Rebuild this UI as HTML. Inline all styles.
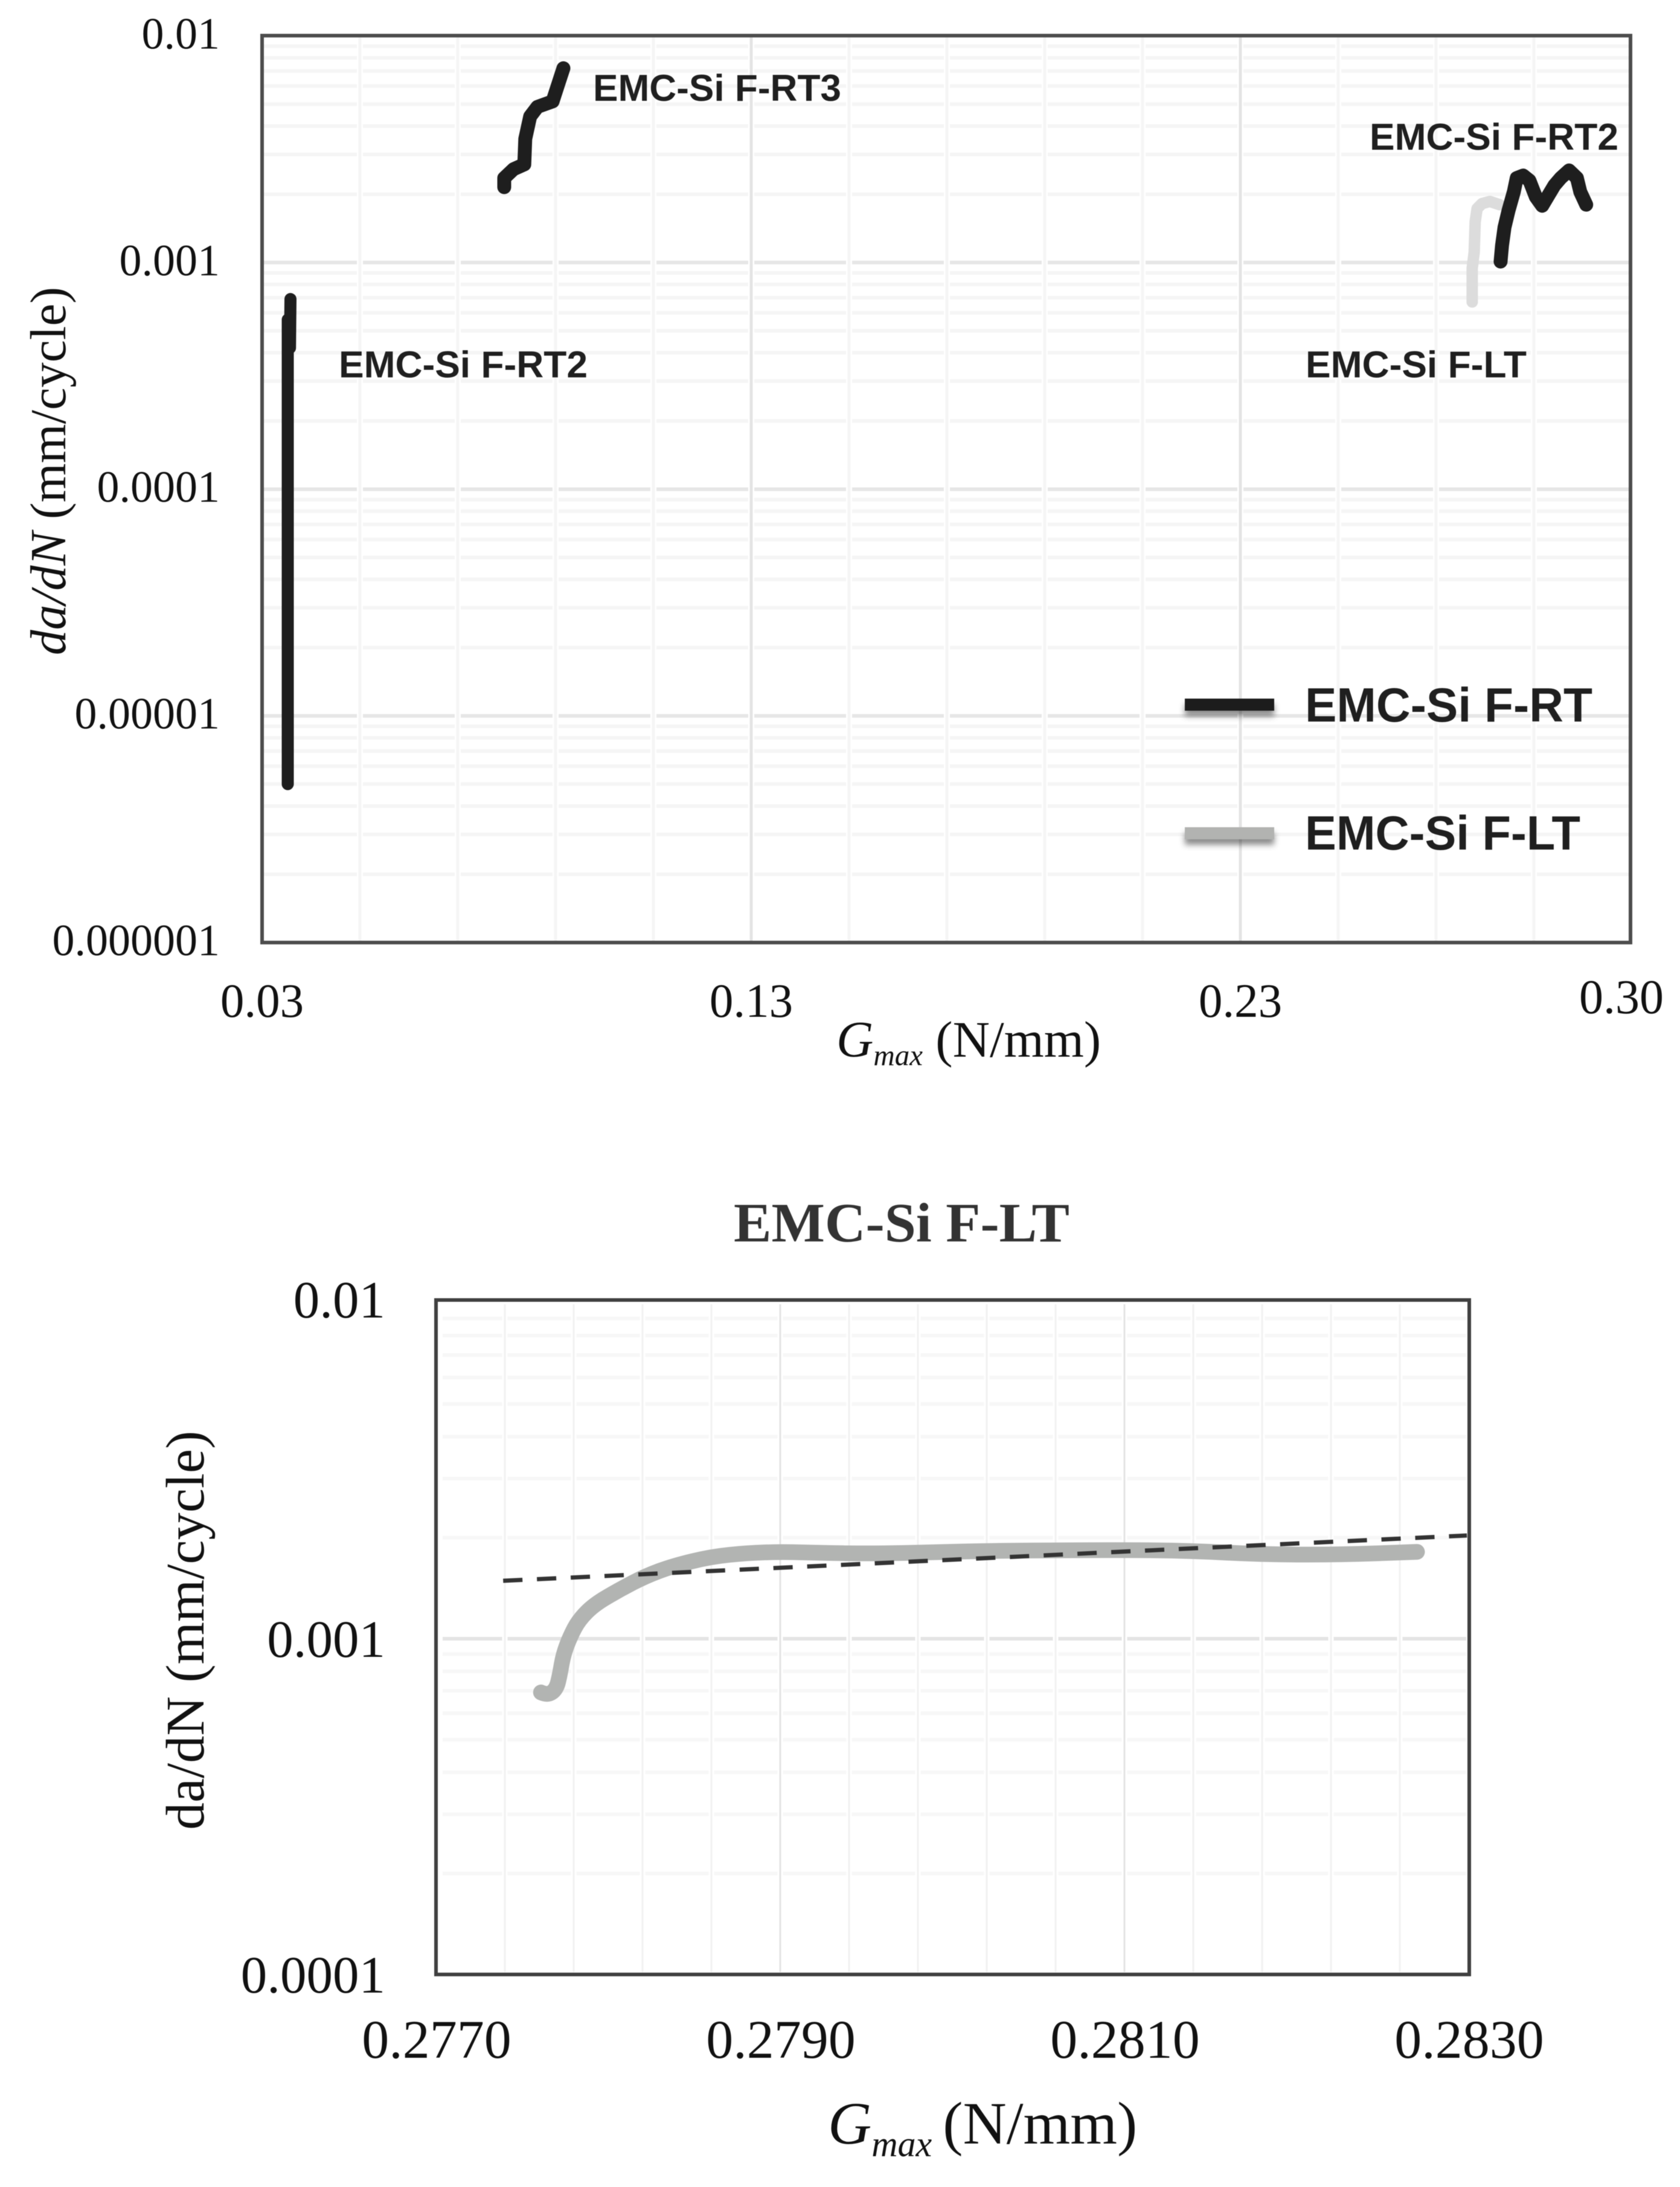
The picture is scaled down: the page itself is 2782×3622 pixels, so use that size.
<!DOCTYPE html>
<html lang="en">
<head>
<meta charset="utf-8">
<title>EMC-Si fatigue crack growth charts</title>
<style>
html,body{margin:0;padding:0;background:#fff;}
svg{display:block;filter:blur(0.6px);}
text{font-family:"Liberation Serif",serif;fill:#111;}
.sans{font-family:"Liberation Sans",sans-serif;font-weight:bold;fill:#1f1f1f;}
</style>
</head>
<body>
<svg id="root" xmlns="http://www.w3.org/2000/svg" width="2782" height="3622" viewBox="0 0 2782 3622">
<defs>
<filter id="legend-shadow" x="-20%" y="-100%" width="140%" height="400%">
<feDropShadow dx="0" dy="9" stdDeviation="5" flood-color="#000" flood-opacity="0.45"/>
</filter>
</defs>
<rect width="2782" height="3622" fill="#fff"/>
<g id="chart1"></g>
<g id="chart2"></g>

<text x="108" y="780" font-size="84" text-anchor="middle" textLength="610" lengthAdjust="spacingAndGlyphs" transform="rotate(-90 108 780)"><tspan font-style="italic">da/dN</tspan> (mm/cycle)</text>
<text x="1385" y="1750" font-size="85"><tspan font-style="italic">G</tspan><tspan font-style="italic" font-size="49" dy="14">max</tspan><tspan dy="-14"> (N/mm)</tspan></text>

<text class="sans" x="982" y="167" font-size="62" textLength="411" lengthAdjust="spacingAndGlyphs">EMC-Si F-RT3</text>
<text class="sans" x="561" y="625" font-size="62" textLength="412" lengthAdjust="spacingAndGlyphs">EMC-Si F-RT2</text>
<text class="sans" x="2268" y="248" font-size="62" textLength="412" lengthAdjust="spacingAndGlyphs">EMC-Si F-RT2</text>
<text class="sans" x="2162" y="625" font-size="62" textLength="366" lengthAdjust="spacingAndGlyphs">EMC-Si F-LT</text>

<g>
<rect x="1962" y="1157" width="148" height="20" fill="#1e1e1e" filter="url(#legend-shadow)"/>
<text class="sans" x="2161" y="1195" font-size="80" textLength="476" lengthAdjust="spacingAndGlyphs">EMC-Si F-RT</text>
<rect x="1962" y="1370" width="148" height="20" fill="#b2b3b1" filter="url(#legend-shadow)"/>
<text class="sans" x="2161" y="1407" font-size="80" textLength="456" lengthAdjust="spacingAndGlyphs">EMC-Si F-LT</text>
</g>

<text x="1215" y="2056" font-size="92" font-weight="bold" textLength="556" lengthAdjust="spacingAndGlyphs" style="fill:#333">EMC-Si F-LT</text>
<text x="337" y="2700" font-size="90" text-anchor="middle" textLength="661" lengthAdjust="spacingAndGlyphs" transform="rotate(-90 337 2700)">da/dN (mm/cycle)</text>
<text x="1371" y="3550" font-size="100"><tspan font-style="italic">G</tspan><tspan font-style="italic" font-size="60" dy="21">max</tspan><tspan dy="-21" dx="18">(N/mm)</tspan></text>
</svg>

<script>
// ---------- overview chart data ----------
const overviewXTicks = [0.03, 0.13, 0.23, 0.31];
const overviewXLabels = ['0.03', '0.13', '0.23', '0.30'];
const overviewYTicks = [0.01, 0.001, 0.0001, 0.00001, 0.000001];
const overviewYLabels = ['0.01', '0.001', '0.0001', '0.00001', '0.000001'];

const rt2LeftX = [0.03525, 0.03525, 0.0357, 0.0358];
const rt2LeftY = [5e-6, 5.6e-4, 4.2e-4, 6.9e-4];

const rt3X = [0.0795, 0.0795, 0.0814, 0.0836, 0.0838, 0.0848, 0.0863, 0.0894, 0.0904, 0.0916];
const rt3Y = [2.15e-3, 2.36e-3, 2.58e-3, 2.71e-3, 3.51e-3, 4.41e-3, 4.86e-3, 5.14e-3, 5.99e-3, 7.2e-3];

const rt2RightX = [0.2832, 0.2835, 0.2840, 0.2848, 0.2859, 0.2865, 0.2878, 0.2891, 0.2904, 0.2917, 0.2928, 0.2942, 0.2955, 0.2972, 0.2988, 0.2995, 0.3007];
const rt2RightY = [1.01e-3, 1.19e-3, 1.43e-3, 1.69e-3, 2.05e-3, 2.36e-3, 2.42e-3, 2.30e-3, 1.95e-3, 1.78e-3, 1.95e-3, 2.19e-3, 2.36e-3, 2.55e-3, 2.36e-3, 2.05e-3, 1.80e-3];

const ltOverviewX = [0.2774, 0.2774, 0.2778, 0.2780, 0.2784, 0.2794, 0.2810, 0.2830];
const ltOverviewY = [6.70e-4, 9.45e-4, 1.11e-3, 1.51e-3, 1.73e-3, 1.82e-3, 1.86e-3, 1.80e-3];

// ---------- detail chart data ----------
const detailXTicks = [0.2770, 0.2790, 0.2810, 0.2830];
const detailXLabels = ['0.2770', '0.2790', '0.2810', '0.2830'];
const detailYTicks = [0.01, 0.001, 0.0001];
const detailYLabels = ['0.01', '0.001', '0.0001'];

const ltDetailX = [0.27761, 0.27765, 0.27770, 0.27772, 0.27774, 0.27778, 0.27783, 0.27792, 0.27807, 0.27822, 0.27838, 0.27860, 0.27881, 0.27901, 0.27925, 0.27954, 0.27988, 0.28026, 0.28099, 0.28137, 0.28178, 0.28222, 0.28270];
const ltDetailY = [6.92e-4, 6.78e-4, 7.09e-4, 7.83e-4, 8.98e-4, 1.017e-3, 1.137e-3, 1.266e-3, 1.404e-3, 1.539e-3, 1.650e-3, 1.756e-3, 1.801e-3, 1.815e-3, 1.801e-3, 1.793e-3, 1.808e-3, 1.830e-3, 1.838e-3, 1.830e-3, 1.785e-3, 1.778e-3, 1.815e-3];

const trendX = [0.27739, 0.28299];
const trendY = [1.488e-3, 2.03e-3];

// ---------- axis functions ----------
const NS = 'http://www.w3.org/2000/svg';
function ox(v) { return 434 + (v - 0.03) * 8100; }
function oy(v) { return 1561 - 375.4 * (Math.log10(v) + 6); }
function dx(v) { return 722 + (v - 0.277) * 285000; }
function dy(v) { return 3270 - 556 * (Math.log10(v) + 4); }

function make(parent, tag, props) {
  const el = document.createElementNS(NS, tag);
  for (const k in props) el.setAttribute(k, props[k]);
  parent.appendChild(el);
  return el;
}
function pathOf(xs, ys, fx, fy) {
  return xs.map(function (v, i) {
    return (i ? 'L' : 'M') + fx(v).toFixed(1) + ' ' + fy(ys[i]).toFixed(1);
  }).join(' ');
}
function smoothPathOf(xs, ys, fx, fy) {
  const px = xs.map(fx);
  const py = ys.map(fy);
  let d = 'M' + px[0].toFixed(1) + ' ' + py[0].toFixed(1);
  for (let i = 1; i < px.length - 1; i++) {
    const mx = (px[i] + px[i + 1]) / 2;
    const my = (py[i] + py[i + 1]) / 2;
    d += ' Q' + px[i].toFixed(1) + ' ' + py[i].toFixed(1) + ' ' + mx.toFixed(1) + ' ' + my.toFixed(1);
  }
  d += ' L' + px[px.length - 1].toFixed(1) + ' ' + py[py.length - 1].toFixed(1);
  return d;
}
function decadeGrid(parent, fy, exps, x1, x2, color, major, w) {
  exps.forEach(function (e) {
    for (let m = 1; m <= 9; m++) {
      const v = m * Math.pow(10, e);
      const line = make(parent, 'line', {
        x1: x1, x2: x2, y1: fy(v), y2: fy(v),
        stroke: m === 1 ? major : color, 'stroke-width': w
      });
      
      
    }
  });
}
function vGrid(parent, fx, start, step, count, y1, y2, minorW, majorEvery, gapW, minorColor) {
  for (let i = 1; i < count; i++) {
    const v = start + step * i;
    const isMajor = i % majorEvery === 0;
    const x = fx(v);
    const halo = make(parent, 'line', { x1: x, x2: x, y1: y1, y2: y2, stroke: '#fff', 'stroke-width': gapW });
    
    
    const line = make(parent, 'line', {
      x1: x, x2: x, y1: y1, y2: y2,
      stroke: isMajor ? '#e4e4e4' : minorColor, 'stroke-width': minorW
    });
    
    
  }
}
function series(parent, d, color, width, name) {
  const p = make(parent, 'path', {
    d: d, fill: 'none', stroke: color, 'stroke-width': width,
    'stroke-linecap': 'round', 'stroke-linejoin': 'round'
  });
  
  
  return p;
}

// ---------- overview chart ----------
const c1 = document.getElementById('chart1');
decadeGrid(c1, oy, [-6, -5, -4, -3], 437, 2698, '#f5f5f5', '#e6e6e6', 6);
vGrid(c1, ox, 0.03, 0.02, 14, 62, 1558, 5, 5, 10, '#f5f5f5');

series(c1, pathOf(ltOverviewX, ltOverviewY, ox, oy), '#dcdcdc', 19, 'series-lt-overview');
series(c1, pathOf(rt2LeftX, rt2LeftY, ox, oy), '#1e1e1e', 20, 'series-rt2-left');
series(c1, pathOf(rt3X, rt3Y, ox, oy), '#1e1e1e', 23, 'series-rt3');
series(c1, pathOf(rt2RightX, rt2RightY, ox, oy), '#1e1e1e', 23, 'series-rt2-right');

const frame1 = make(c1, 'rect', { x: 434, y: 59, width: 2266, height: 1502, fill: 'none', stroke: '#4d4d4d', 'stroke-width': 6 });



overviewYTicks.forEach(function (v, i) {
  const t = make(c1, 'text', { x: 364, y: oy(v) + 21, 'font-size': 74, 'text-anchor': 'end' });
  t.textContent = overviewYLabels[i];
  
  
});
overviewXTicks.forEach(function (v, i) {
  const last = i === overviewXTicks.length - 1;
  const t = make(c1, 'text', {
    x: ox(v) - (last ? 17 : 0), y: last ? 1678 : 1684,
    'font-size': last ? 80 : 79, 'text-anchor': 'middle'
  });
  t.textContent = overviewXLabels[i];
  
  
});

// ---------- detail chart ----------
const c2 = document.getElementById('chart2');
decadeGrid(c2, dy, [-4, -3], 733, 2428, '#f7f7f7', '#e4e4e4', 6);
vGrid(c2, dx, 0.277, 0.0004, 15, 2160, 3266, 3, 5, 9, '#f2f2f2');

series(c2, smoothPathOf(ltDetailX, ltDetailY, dx, dy), '#b2b4b2', 26, 'series-lt-detail');
const trend = series(c2, pathOf(trendX, trendY, dx, dy), '#333', 7, 'trendline');
trend.setAttribute('stroke-dasharray', '32 24');
trend.setAttribute('stroke-linecap', 'butt');

const frame2 = make(c2, 'rect', { x: 722, y: 2153, width: 1711, height: 1117, fill: 'none', stroke: '#404040', 'stroke-width': 6 });



detailYTicks.forEach(function (v, i) {
  const t = make(c2, 'text', { x: 638, y: dy(v) + (i === 0 ? 24 : 30), 'font-size': 87, 'text-anchor': 'end' });
  t.textContent = detailYLabels[i];
  
  
});
detailXTicks.forEach(function (v, i) {
  const t = make(c2, 'text', { x: dx(v) + 1, y: 3408, 'font-size': 90, 'text-anchor': 'middle' });
  t.textContent = detailXLabels[i];
  
  
});
</script>
</body>
</html>
